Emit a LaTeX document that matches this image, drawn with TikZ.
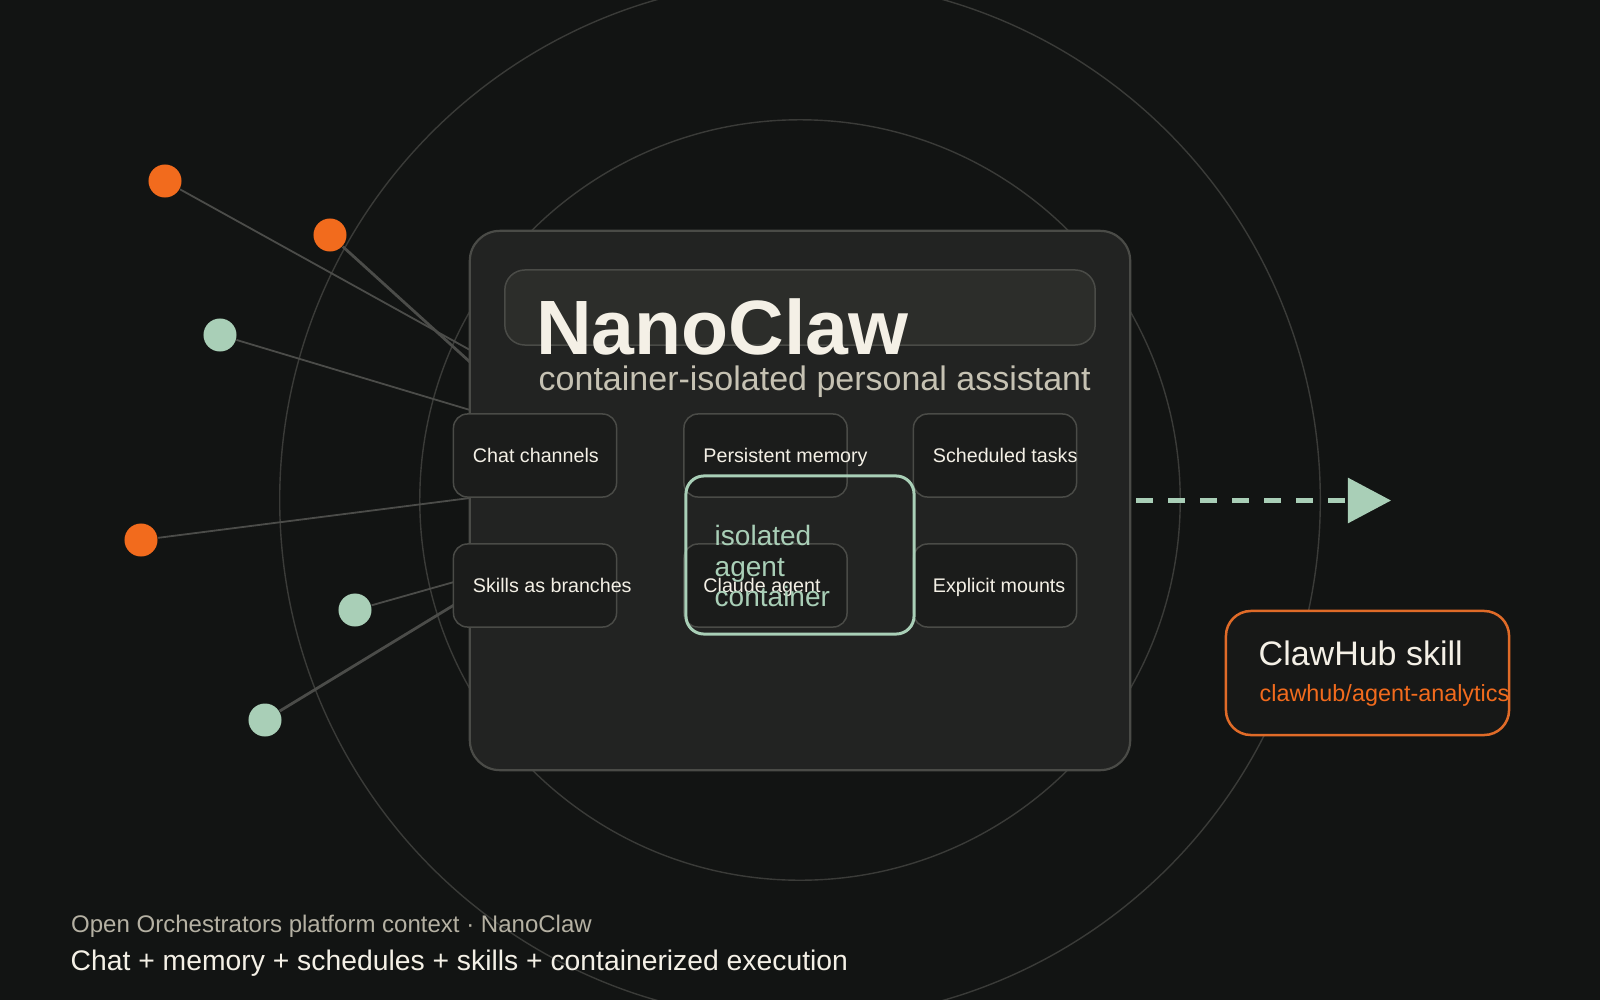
\documentclass[tikz,border=0pt]{standalone}
\usepackage{fontspec}
\setmainfont{Liberation Sans}
\usetikzlibrary{arrows.meta}
\definecolor{bgc}{HTML}{121413}
\definecolor{ringc}{HTML}{3A3B38}
\definecolor{linkc}{HTML}{4B4C49}
\definecolor{edgec}{HTML}{4A4B47}
\definecolor{panelc}{HTML}{222322}
\definecolor{bandc}{HTML}{2C2D2A}
\definecolor{cellc}{HTML}{1B1C1B}
\definecolor{cream}{HTML}{F4F0E6}
\definecolor{subc}{HTML}{C6C2B3}
\definecolor{mint}{HTML}{A9CFB7}
\definecolor{orng}{HTML}{F26B1D}
\definecolor{hubc}{HTML}{E06B28}
\definecolor{hubfill}{HTML}{171817}
\definecolor{notec}{HTML}{B5B1A3}

\begin{document}
\begin{tikzpicture}[x=0.01cm,y=-0.01cm,
  dot/.style={circle,minimum size=3.3mm,inner sep=0pt},
  od/.style={dot,fill=orng},
  gd/.style={dot,fill=mint},
  ring/.style={draw=ringc,line width=0.14mm},
  link/.style={draw=linkc,line width=0.18mm},
  heavy/.style={draw=linkc,line width=0.28mm},
  panel/.style={draw=edgec,fill=panelc,line width=0.22mm,rounded corners=3mm,
    minimum width=6.6cm,minimum height=5.39cm,inner sep=0pt},
  band/.style={draw=edgec,fill=bandc,line width=0.15mm,rounded corners=2mm,
    minimum width=5.9cm,minimum height=0.75cm,inner sep=0pt},
  cell/.style={draw=edgec,fill=cellc,line width=0.15mm,rounded corners=1.4mm,
    minimum width=1.63cm,minimum height=0.83cm,inner sep=0pt},
  lab/.style={anchor=base west,inner sep=0pt,text=cream,font=\fontsize{5.6}{6.7}\selectfont},
  flow/.style={draw=mint,line width=0.43mm,dash pattern=on 1.7mm off 1.5mm,
    -{Triangle[length=4.3mm,width=4.45mm]}},
  note/.style={anchor=base west,inner sep=0pt}]

\fill[bgc] (0,0) rectangle (1600,1000);
\useasboundingbox (0,0) rectangle (1600,1000);

% rings round the panel
\coordinate (c) at (800,500);
\draw[ring] (c) circle (3.8cm);
\draw[ring] (c) circle (5.2cm);

% inputs on the left
\node[od] (d1) at (165,181) {};
\node[od] (d2) at (330,235) {};
\node[gd] (d3) at (220,335) {};
\node[od] (d4) at (141,540) {};
\node[gd] (d5) at (355,610) {};
\node[gd] (d6) at (265,720) {};
\coordinate (e1) at (470,350); \coordinate (e2) at (470,362);
\coordinate (e3) at (470,410); \coordinate (e4) at (470,498);
\coordinate (e5) at (454,582); \coordinate (e6) at (454,605);
\draw[link] (d1)--(e1); \draw[heavy] (d2)--(e2); \draw[link] (d3)--(e3);
\draw[link] (d4)--(e4); \draw[link] (d5)--(e5); \draw[heavy] (d6)--(e6);

% main panel
\node[panel] (main) at (800,500.5) {};
\node[band] (head) at (800,307.5) {};
\node[note,text=cream,font=\fontsize{21.9}{24}\bfseries] (title) at (535.5,354) {NanoClaw};
\node[note,text=subc,font=\fontsize{9.67}{11}\selectfont] (sub) at (538,390) {container-isolated personal assistant};

% feature cells
\node[cell] (chat) at (535,455.5) {};
\node[cell] (mem) at (765.5,455.5) {};
\node[cell] (sched) at (995,455.5) {};
\node[cell] (skill) at (535,585.5) {};
\node[cell] (agent) at (765.5,585.5) {};
\node[cell] (mount) at (995,585.5) {};
\node[lab] at ([shift={(19.5,7)}]chat.west) {Chat channels};
\node[lab] at ([shift={(19.5,7)}]mem.west) {Persistent memory};
\node[lab] at ([shift={(19.5,7)}]sched.west) {Scheduled tasks};
\node[lab] at ([shift={(19.5,7)}]skill.west) {Skills as branches};
\node[lab] at ([shift={(19.5,7)}]agent.west) {Claude agent};
\node[lab] at ([shift={(19.5,7)}]mount.west) {Explicit mounts};

% container outline
\node[draw=mint,line width=0.3mm,rounded corners=1.8mm,minimum width=2.28cm,
  minimum height=1.58cm,inner sep=0pt] (iso) at (800,555) {};
\node[anchor=north west,inner sep=0pt,align=left,text=mint,
  font=\fontsize{7.97}{8.68}\selectfont] (isot) at (714,524.6) {isolated\\agent\\container};

% skill going out
\coordinate (tip) at (1391,500.5);
\draw[flow] ([xshift=0.5mm]main.east)--(tip);
\node[draw=hubc,fill=hubfill,line width=0.25mm,rounded corners=2.5mm,minimum width=2.83cm,
  minimum height=1.24cm,inner sep=0pt] (hub) at (1367.5,673) {};
\node[note,text=cream,font=\fontsize{9.67}{11}\selectfont] at (1258,665) {ClawHub skill};
\node[note,text=orng,font=\fontsize{6.65}{8}\selectfont] at (1259,701) {clawhub/agent-analytics};

% caption
\node[note,text=notec,font=\fontsize{6.83}{8}\selectfont] at (70.5,932) {Open Orchestrators platform context · NanoClaw};
\node[note,text=cream,font=\fontsize{8.05}{9.5}\selectfont] at (70,970) {Chat + memory + schedules + skills + containerized execution};
\end{tikzpicture}
\end{document}
